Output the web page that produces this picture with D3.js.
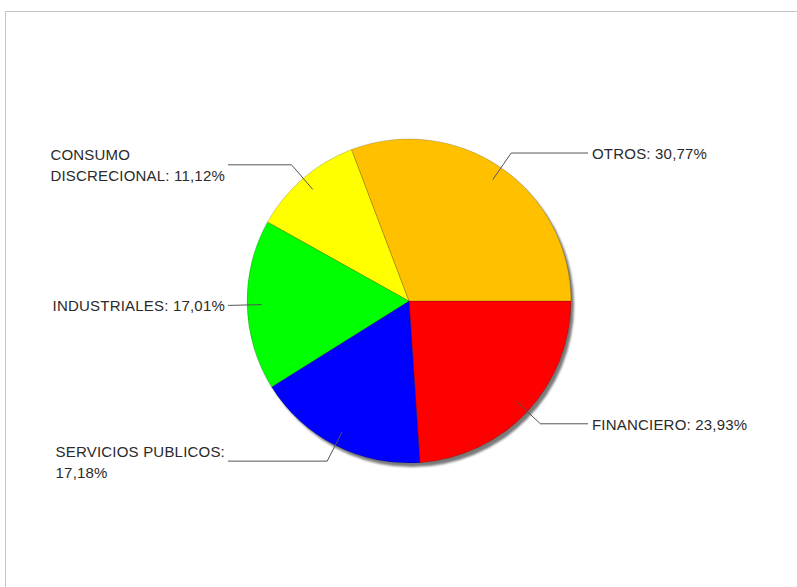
<!DOCTYPE html>
<html>
<head>
<meta charset="utf-8">
<script src="https://cdn.jsdelivr.net/npm/d3@7"></script>
<style>
  body { margin: 0; background: #fff; }
  text { font-family: "Liberation Sans", Arial, sans-serif; font-size: 15px; fill: #2a2a2a; letter-spacing: 0.2px; }
</style>
</head>
<body>
<script>
var categories = ["FINANCIERO", "SERVICIOS PUBLICOS", "INDUSTRIALES", "CONSUMO DISCRECIONAL", "OTROS"];
var values = [23.93, 17.18, 17.01, 11.12, 30.77];
var colors = ["#ff0000", "#0000ff", "#00ff00", "#ffff00", "#ffc000"];

var width = 797, height = 587;
var cx = 409, cy = 301, r = 162;

var svg = d3.select("body").append("svg").attr("width", width).attr("height", height);

// panel frame (runs off the right and bottom)
svg.append("rect")
    .attr("x", 5.5).attr("y", 11.5)
    .attr("width", 900).attr("height", 700)
    .attr("fill", "none").attr("stroke", "#c4c4c4");

var defs = svg.append("defs");
defs.append("filter").attr("id", "blur")
    .append("feGaussianBlur").attr("stdDeviation", 1);

var pie = d3.pie().sort(null)
    .startAngle(Math.PI / 2).endAngle(Math.PI / 2 + 2 * Math.PI)
    .value(function(d) { return d; });
var arcs = pie(values);
var arc = d3.arc().innerRadius(0).outerRadius(r);

var g = svg.append("g").attr("transform", "translate(" + cx + "," + cy + ")");

// shadow
g.append("circle").attr("cx", 3).attr("cy", 4).attr("r", r)
    .attr("fill", "#7a7a7a").attr("filter", "url(#blur)");

g.selectAll("path.slice").data(arcs).enter().append("path")
    .attr("class", "slice")
    .attr("d", arc)
    .attr("fill", function(d, i) { return colors[i]; })
    .attr("stroke", "rgba(0,0,0,0.3)")
    .attr("stroke-width", 0.6);

function fmt(v) { return v.toFixed(2).replace(".", ","); }

var inner = d3.arc().innerRadius(r * 0.91).outerRadius(r * 0.91);
var outer = d3.arc().innerRadius(r * 1.11).outerRadius(r * 1.11);

arcs.forEach(function(d, i) {
    var a = inner.centroid(d), b = outer.centroid(d);
    var right = b[0] > 0;
    var endX = right ? 179 : -181;
    g.append("polyline")
        .attr("points", [a, b, [endX, b[1]]].map(function(p) { return p.join(","); }).join(" "))
        .attr("fill", "none").attr("stroke", "#555").attr("stroke-width", 1);

    var label = categories[i] + ": " + fmt(values[i]) + "%";
    var t = g.append("text").attr("dominant-baseline", "central");
    // wrap into lines no wider than 180px
    var words = label.split(" "), lines = [], line = [];
    var probe = g.append("text").attr("visibility", "hidden");
    words.forEach(function(w) {
        var test = line.concat([w]).join(" ");
        probe.text(test);
        if (probe.node().getComputedTextLength() > 180 && line.length) {
            lines.push(line.join(" "));
            line = [w];
        } else {
            line.push(w);
        }
    });
    lines.push(line.join(" "));
    var maxW = 0;
    lines.forEach(function(l) { probe.text(l); maxW = Math.max(maxW, probe.node().getComputedTextLength()); });
    probe.remove();

    var lh = 21;
    var x = right ? endX + 4 : endX - 3 - maxW;
    var y0 = b[1] - (lines.length - 1) * lh / 2;
    lines.forEach(function(l, k) {
        t.append("tspan").attr("x", x).attr("y", y0 + k * lh).text(l);
    });
});
</script>
</body>
</html>
